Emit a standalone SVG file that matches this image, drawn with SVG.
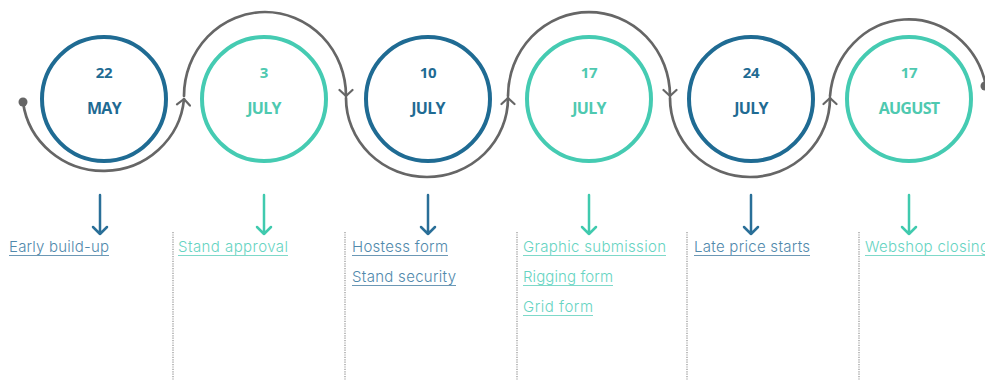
<svg xmlns="http://www.w3.org/2000/svg" width="985" height="380" viewBox="0 0 985 380">
<style>
.bg{fill:#ffffff}
.ring{fill:none;stroke-width:4}
.ring.b{stroke:#1f6b93}
.ring.t{stroke:#45cbb2}
.num{font-family:"Open Sans","Liberation Sans",sans-serif;font-weight:700;font-size:15px;text-anchor:middle;letter-spacing:-0.3px}
.mon{font-family:"Open Sans","Liberation Sans",sans-serif;font-weight:700;font-size:16px;text-anchor:middle;letter-spacing:-0.7px}
.cb{fill:#1f6b93}
.ct{fill:#4ec9b0}
.flow{fill:none;stroke:#666666;stroke-width:2.7;stroke-linecap:round}
.drop{fill:none;stroke-width:2.5;stroke-linecap:round;stroke-linejoin:round}
.drop.b{stroke:#2a6f98}
.drop.t{stroke:#40caae}
.lbl{font-family:Inter,"Liberation Sans",sans-serif;font-weight:300;font-size:15px}
.lb{fill:#5089ac}
.lt{fill:#66d4c2}
.ul{stroke-width:1.2}
.ul.b{stroke:#6c98b5}
.ul.t{stroke:#7ed9c9}
.sep{stroke:#a8a8a8;stroke-width:1.5;stroke-dasharray:1.2 1.2}
</style>
<defs>
<marker id="chev" markerUnits="userSpaceOnUse" markerWidth="16" markerHeight="16" refX="8" refY="8" orient="auto" viewBox="0 0 16 16">
<path d="M2,1.5 L8,8 L2,14.5" fill="none" stroke="#666666" stroke-width="2.2" stroke-linecap="round" stroke-linejoin="round"/>
</marker>
</defs>
<rect class="bg" x="0" y="0" width="985" height="380"/>

<g id="connectors">
<circle cx="23" cy="102" r="4.5" fill="#666666"/>
<path class="flow" d="M23,102 A81,79 0 0 0 184,99" marker-end="url(#chev)"/>
<path class="flow" d="M184,96 A81,84 0 0 1 346,96" marker-end="url(#chev)"/>
<path class="flow" d="M346,98 A81,79 0 0 0 508,98" marker-end="url(#chev)"/>
<path class="flow" d="M508,96 A81,84 0 0 1 670,96" marker-end="url(#chev)"/>
<path class="flow" d="M670,98 A80,79 0 0 0 830,98" marker-end="url(#chev)"/>
<path class="flow" d="M830,96 A79,84 0 0 1 986,86"/>
<circle cx="985" cy="86" r="4.5" fill="#666666"/>
</g>

<g id="separators">
<line class="sep" x1="173" y1="232" x2="173" y2="380"/>
<line class="sep" x1="345" y1="232" x2="345" y2="380"/>
<line class="sep" x1="517" y1="232" x2="517" y2="380"/>
<line class="sep" x1="687" y1="232" x2="687" y2="380"/>
<line class="sep" x1="859" y1="232" x2="859" y2="380"/>
</g>

<g id="node-22-may">
<circle class="ring b" cx="104" cy="99" r="62"/>
<text class="num cb" x="104" y="78">22</text>
<text class="mon cb" x="104" y="114">MAY</text>
<path class="drop b" d="M100,195 L100,234 M93,227 L100,234 L107,227"/>
<text class="lbl lb" x="9" y="252" textLength="100">Early build-up</text>
<line class="ul b" x1="9" y1="255.5" x2="109" y2="255.5"/>
</g>

<g id="node-3-july">
<circle class="ring t" cx="264" cy="99" r="62"/>
<text class="num ct" x="264" y="78">3</text>
<text class="mon ct" x="264" y="114">JULY</text>
<path class="drop t" d="M264,195 L264,234 M257,227 L264,234 L271,227"/>
<text class="lbl lt" x="178" y="252" textLength="110">Stand approval</text>
<line class="ul t" x1="178" y1="255.5" x2="288" y2="255.5"/>
</g>

<g id="node-10-july">
<circle class="ring b" cx="428" cy="99" r="62"/>
<text class="num cb" x="428" y="78">10</text>
<text class="mon cb" x="428" y="114">JULY</text>
<path class="drop b" d="M428,195 L428,234 M421,227 L428,234 L435,227"/>
<text class="lbl lb" x="352" y="252" textLength="96">Hostess form</text>
<line class="ul b" x1="352" y1="255.5" x2="448" y2="255.5"/>
<text class="lbl lb" x="352" y="282" textLength="104">Stand security</text>
<line class="ul b" x1="352" y1="285.5" x2="456" y2="285.5"/>
</g>

<g id="node-17-july">
<circle class="ring t" cx="589" cy="99" r="62"/>
<text class="num ct" x="589" y="78">17</text>
<text class="mon ct" x="589" y="114">JULY</text>
<path class="drop t" d="M589,195 L589,234 M582,227 L589,234 L596,227"/>
<text class="lbl lt" x="523" y="252" textLength="143">Graphic submission</text>
<line class="ul t" x1="523" y1="255.5" x2="666" y2="255.5"/>
<text class="lbl lt" x="523" y="282" textLength="90">Rigging form</text>
<line class="ul t" x1="523" y1="285.5" x2="613" y2="285.5"/>
<text class="lbl lt" x="523" y="312" textLength="70">Grid form</text>
<line class="ul t" x1="523" y1="315.5" x2="593" y2="315.5"/>
</g>

<g id="node-24-july">
<circle class="ring b" cx="751" cy="99" r="62"/>
<text class="num cb" x="751" y="78">24</text>
<text class="mon cb" x="751" y="114">JULY</text>
<path class="drop b" d="M751,195 L751,234 M744,227 L751,234 L758,227"/>
<text class="lbl lb" x="694" y="252" textLength="116">Late price starts</text>
<line class="ul b" x1="694" y1="255.5" x2="810" y2="255.5"/>
</g>

<g id="node-17-august">
<circle class="ring t" cx="909" cy="99" r="62"/>
<text class="num ct" x="909" y="78">17</text>
<text class="mon ct" x="909" y="114">AUGUST</text>
<path class="drop t" d="M909,195 L909,234 M902,227 L909,234 L916,227"/>
<text class="lbl lt" x="865" y="252" textLength="124">Webshop closing</text>
<line class="ul t" x1="865" y1="255.5" x2="989" y2="255.5"/>
</g>
</svg>
